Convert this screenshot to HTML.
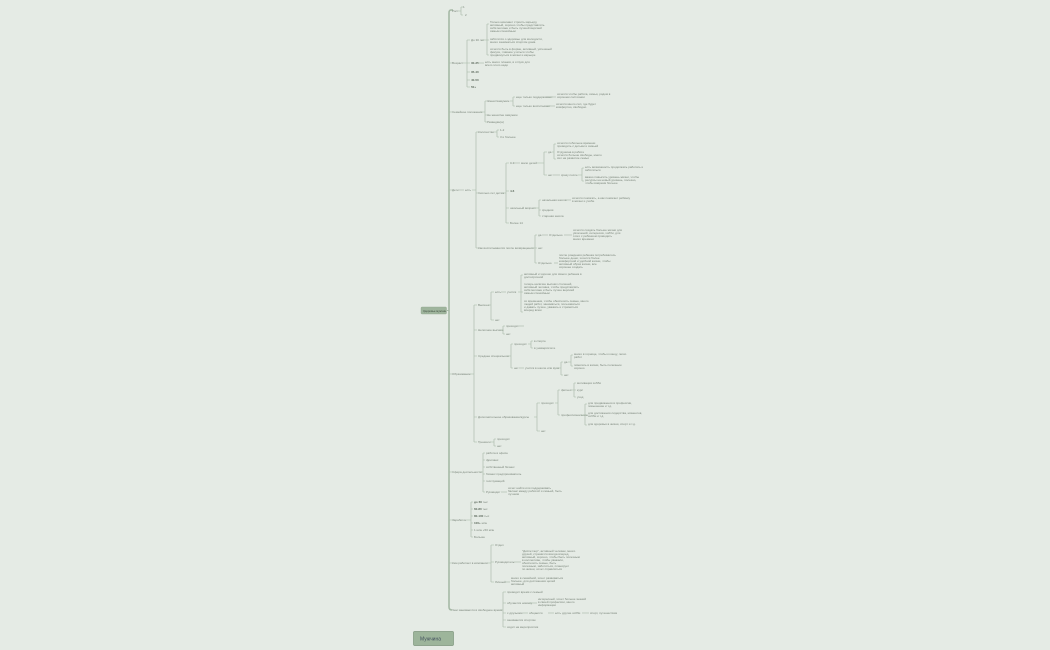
<!DOCTYPE html>
<html><head><meta charset="utf-8"><style>
html,body{margin:0;padding:0;background:#e5ebe5;}
svg{display:block}
text{font-family:"Liberation Sans",sans-serif;font-size:3px;fill:#7a857a}
.b{fill:#5e6b5e;font-weight:bold}
path,line{stroke:#a3b5a3;stroke-width:0.6;fill:none}
</style></head><body>
<svg width="1050" height="650" viewBox="0 0 1050 650" xmlns="http://www.w3.org/2000/svg">
<rect width="1050" height="650" fill="#e5ebe5"/>
<!-- spine -->
<path d="M453 10 H451 Q449 10 449 13 V607 Q449 610 452 610" style="stroke:#a6b9a6;stroke-width:1.6"/>
<path d="M447 310.5 H449" style="stroke:#a6b9a6;stroke-width:1"/>
<rect x="421" y="307" width="25.5" height="7" rx="1" fill="#9fb59d" stroke="#8fa58d" stroke-width="0.4"/>
<text x="423" y="311.8" style="font-size:2.8px;fill:#3f4d3f">Здоровье мужчин</text>

<!-- level 1 ticks -->
<path d="M449 63H452 M449 112H452 M449 190H452 M449 374H452 M449 472H452 M449 520H452 M449 563H452"/>
<text x="452" y="12">Рост</text>
<path d="M458 11H461 M461 7V15 M461 7H463 M461 15H463"/><text x="463" y="8">1</text><text x="465" y="16">2</text>

<text x="452" y="64">Возраст</text>
<path d="M463 63H467 M467 40V87 M467 40H470 M467 63H470 M467 72H470 M467 80H470 M467 87H470"/>
<text x="471" y="41">До 30 лет</text>
<path d="M482 40H487 M487 24V55 M487 24H489 M487 40H489 M487 55H489"/>
<text x="490" y="23">Только начинает строить карьеру,</text><text x="490" y="26">активный, хорошо чтобы представлять</text><text x="490" y="29">себя моложе и быть лучшей версией</text><text x="490" y="32">самым спокойным</text>
<text x="490" y="40">заботится о здоровье для молодости,</text><text x="490" y="43">много заниматься спортом дома</text>
<text x="490" y="50">хочется быть в форме, активный, успешный</text><text x="490" y="53">фокусе, главное учиться чтобы</text><text x="490" y="56">продвинуться в жизни и карьере</text>
<text x="471" y="64" class="b">30-35</text><path d="M478 63H484"/><text x="485" y="63">есть много планов, в отпуск для</text><text x="485" y="66">всего этого надо</text>
<text x="471" y="73" class="b">35-40</text><text x="471" y="81" class="b">40-50</text><text x="471" y="88" class="b">50+</text>

<text x="452" y="113">Семейное положение</text>
<path d="M480 112H485 M485 101V122 M485 101H487 M485 115H487 M485 122H487"/>
<text x="487" y="102">Женат/замужем</text>
<path d="M510 101H513 M513 97V106 M513 97H515 M513 106H515"/>
<text x="516" y="98">еще только поддерживает</text><path d="M548 97H556"/><text x="557" y="95">хочется чтобы работа, семья, рядом в</text><text x="557" y="98">хорошем состоянии</text>
<text x="516" y="107">еще только воспитывает</text><path d="M547 106H555"/><text x="556" y="105">хочется много сил, где будет</text><text x="556" y="108">комфортно, свободно</text>
<text x="487" y="116">Не женат/не замужем</text><text x="487" y="123">Разведён(а)</text>

<text x="452" y="191">Дети</text>
<path d="M459 190H464"/><text x="465" y="191">есть</text>
<path d="M472 190H476 M476 132V248 M476 132H478 M476 193H478 M476 248H478"/>
<text x="478" y="133">Количество</text>
<path d="M494 132H497 M497 130V137 M497 130H499 M497 137H499"/><text x="500" y="131">1-2</text><text x="500" y="138">3 и больше</text>
<text x="478" y="194">Сколько лет детям</text>
<path d="M503 193H506 M506 163V223 M506 163H509 M506 191H509 M506 208H509 M506 223H509"/>
<text x="510" y="164">0-3</text><path d="M514 163H520"/><text x="521" y="164">мало детей</text>
<path d="M537 163H544 M544 152V175 M544 152H547 M544 175H547"/>
<text x="548" y="153">да</text><path d="M552 152H554 M554 144V159 M554 144H556 M554 159H556"/>
<text x="557" y="144">хочется побольше времени</text><text x="557" y="147">проводить с детьми и семьей</text>
<text x="557" y="153">Отдушина в работе</text><text x="557" y="156">хочется больше свободы, много</text><text x="557" y="159">сил на развитие семьи</text>
<text x="548" y="176">нет</text><path d="M553 175H560"/><text x="561" y="176">сразу после</text>
<path d="M578 175H582 M582 168V181 M582 168H584 M582 181H584"/>
<text x="585" y="168">есть возможность продолжать работать и</text><text x="585" y="171">заботиться</text>
<text x="585" y="178">важно повысить уровень жизни, чтобы</text><text x="585" y="181">ресурсы на новый уровень, полезно,</text><text x="585" y="184">чтобы вовремя больше</text>
<text x="510" y="192" class="b">4-6</text>
<text x="510" y="209">школьный возраст</text>
<path d="M534 208H539 M539 200V216 M539 200H541 M539 210H541 M539 216H541"/>
<text x="542" y="201">начальная школа</text><path d="M566 200H571"/><text x="572" y="199">хочется помогать, а как помогает ребёнку</text><text x="572" y="202">в жизни и учёбе</text>
<text x="542" y="211">средняя</text><text x="542" y="217">старшая школа</text>
<text x="510" y="224">Более 14</text>
<text x="478" y="249">Как воспитываются после возвращения</text>
<path d="M531 248H535 M535 235V263 M535 235H537 M535 248H537 M535 263H537"/>
<text x="538" y="236">да</text><path d="M542 235H548"/><text x="549" y="236">Отдельно</text><path d="M564 235H572"/>
<text x="573" y="231">хочется создать больше жизни для</text><text x="573" y="234">увлечений, интересов, хобби, для</text><text x="573" y="237">этого с ребёнком проводить</text><text x="573" y="240">много времени</text>
<text x="538" y="249">нет</text>
<text x="538" y="264">Отдельно</text><path d="M554 263H558"/>
<text x="559" y="256">после рождения ребенка потребовалось</text><text x="559" y="259">больше денег, хочется более</text><text x="559" y="262">комфортной и удобной жизни, чтобы</text><text x="559" y="265">активный образ жизни, все</text><text x="559" y="268">хорошее создать</text>

<text x="452" y="375">Образование</text>
<path d="M470 374H474 M474 305V442 M474 305H477 M474 330H477 M474 356H477 M474 417H477 M474 442H477"/>
<text x="478" y="306">Высшее</text>
<path d="M488 305H491 M491 292V320 M491 292H494 M491 320H494"/>
<text x="495" y="293">есть</text><path d="M501 292H506"/><text x="507" y="293">учится</text>
<path d="M518 292H521 M521 275V312 M521 275H523 M521 292H523 M521 312H523"/>
<text x="524" y="275">активный и хорошо для своего ребенка в</text><text x="524" y="278">долгосрочной</text>
<text x="524" y="285">теперь наличие высших степеней,</text><text x="524" y="288">активный человек, чтобы представлять</text><text x="524" y="291">себя моложе и быть лучше версией</text><text x="524" y="294">самым спокойным</text>
<text x="524" y="302">со временем, чтобы обеспечить семью, много</text><text x="524" y="305">людей работ, заниматься, пользоваться</text><text x="524" y="308">и давать лучше, уважать и стремиться</text><text x="524" y="311">вперед всем</text>
<text x="495" y="321">нет</text>
<text x="478" y="331">Неполное высшее</text>
<path d="M500 330H503 M503 326V334 M503 326H505 M503 334H505"/><text x="506" y="327">проходит</text><path d="M519 326H524"/><text x="506" y="335">нет</text>
<text x="478" y="357">Среднее специальное</text>
<path d="M507 356H511 M511 344V368 M511 344H513 M511 368H513"/>
<text x="514" y="345">проходит</text>
<path d="M528 344H531 M531 341V348 M531 341H533 M531 348H533"/><text x="534" y="342">в спорте</text><text x="534" y="349">в университете</text>
<text x="514" y="369">нет</text><path d="M519 368H524"/><text x="525" y="369">учится в школе или вуза</text>
<path d="M557 368H561 M561 362V375 M561 362H563 M561 375H563"/>
<text x="564" y="363">да</text><path d="M568 362H571 M571 355V366 M571 355H573 M571 366H573"/>
<text x="574" y="355">много в горнице, чтобы к концу, легко</text><text x="574" y="358">работ</text>
<text x="574" y="366">помогать в жизни, быть полезным</text><text x="574" y="369">хорошо</text>
<text x="564" y="376">нет</text>
<text x="478" y="418">Дополнительное образование/курсы</text>
<path d="M534 417H537 M537 403V431 M537 403H540 M537 431H540"/>
<text x="541" y="404">проходит</text>
<path d="M555 403H558 M558 390V415 M558 390H560 M558 415H560"/>
<text x="561" y="391">фитнес</text><path d="M571 390H574 M574 383V397 M574 383H576 M574 390H576 M574 397H576"/>
<text x="577" y="384">мотивация хобби</text><text x="577" y="391">курс</text><text x="577" y="398">уход</text>
<text x="561" y="416">профессиональное</text>
<path d="M581 415H585 M585 404V425 M585 404H587 M585 415H587 M585 425H587"/>
<text x="588" y="404">для продвижения в профессии,</text><text x="588" y="407">повышение и т.д.</text>
<text x="588" y="414">для достижения лидерства, моментов,</text><text x="588" y="417">хобби и т.д.</text>
<text x="588" y="425">для здоровья в жизни, спорт и т.д.</text>
<text x="541" y="432">нет</text>
<text x="478" y="443">Тренинги</text>
<path d="M491 442H494 M494 439V446 M494 439H496 M494 446H496"/><text x="497" y="440">проходит</text><text x="497" y="447">нет</text>

<text x="452" y="473">Сфера деятельности</text>
<path d="M479 472H483 M483 453V492 M483 453H485 M483 460H485 M483 467H485 M483 474H485 M483 481H485 M483 492H485"/>
<text x="486" y="454">работа в офисе</text><text x="486" y="461">фриланс</text><text x="486" y="468">собственный бизнес</text><text x="486" y="475">бизнес предприниматель</text><text x="486" y="482">госслужащий</text><text x="486" y="493">Руководит</text>
<path d="M501 492H507"/><text x="508" y="489">хочет найти или поддерживать</text><text x="508" y="492">баланс между работой и семьей, быть</text><text x="508" y="495">лучшим</text>

<text x="452" y="521">Заработок</text>
<path d="M467 520H471 M471 502V537 M471 502H473 M471 509H473 M471 516H473 M471 523H473 M471 530H473 M471 537H473"/>
<text x="474" y="503"><tspan class="b">до 60</tspan> тыс</text><text x="474" y="510"><tspan class="b">60-80</tspan> тыс</text><text x="474" y="517"><tspan class="b">80-100</tspan> тыс</text><text x="474" y="524"><tspan class="b">100+</tspan> млн</text><text x="474" y="531">1 млн +50 млн</text><text x="474" y="538">Больше</text>

<text x="452" y="564">Кем работает в компании</text>
<path d="M487 563H491 M491 545V582 M491 545H494 M491 562H494 M491 582H494"/>
<text x="495" y="546">Отдел</text>
<text x="495" y="563">Руководитель</text><path d="M514 562H521"/>
<text x="522" y="552">"Диспетчер", активный человек, много</text><text x="522" y="555">друзей, стремится всегда вперед,</text><text x="522" y="558">активный, хорошо, чтобы быть полезным</text><text x="522" y="561">в коллективе, чтобы уважали,</text><text x="522" y="564">обеспечить семью, быть</text><text x="522" y="567">полезным, заботиться, планирует</text><text x="522" y="570">по жизни, хочет справляться</text>
<text x="495" y="583">Личный</text><path d="M505 582H510"/><text x="511" y="579">много в семейной, хочет развиваться</text><text x="511" y="582">больше, для достижения целей</text><text x="511" y="585">активный</text>

<text x="452" y="611">Чем занимается в свободное время</text>
<path d="M500 610H503 M503 592V627 M503 592H506 M503 603H506 M503 613H506 M503 620H506 M503 627H506"/>
<text x="507" y="593">проводит время с семьей</text>
<text x="507" y="604">обучается новому</text><path d="M529 603H537"/><text x="538" y="600">интересный, хочет больше знаний</text><text x="538" y="603">в своей профессии, много</text><text x="538" y="606">информации</text>
<text x="507" y="614">с друзьями</text><path d="M523 613H528"/><text x="529" y="614">общается</text><path d="M548 613H554"/><text x="555" y="614">есть другие хобби</text><path d="M582 613H589"/><text x="590" y="614">спорт, путешествия</text>
<text x="507" y="621">занимается спортом</text>
<text x="507" y="628">ходит на мероприятия</text>

<rect x="413.5" y="631.5" width="40" height="14" rx="1.2" fill="#9db59b" stroke="#7f977e" stroke-width="0.7"/>
<text x="420" y="640.5" style="font-size:5px;fill:#44525f">Мужчина</text>
</svg>
</body></html>
